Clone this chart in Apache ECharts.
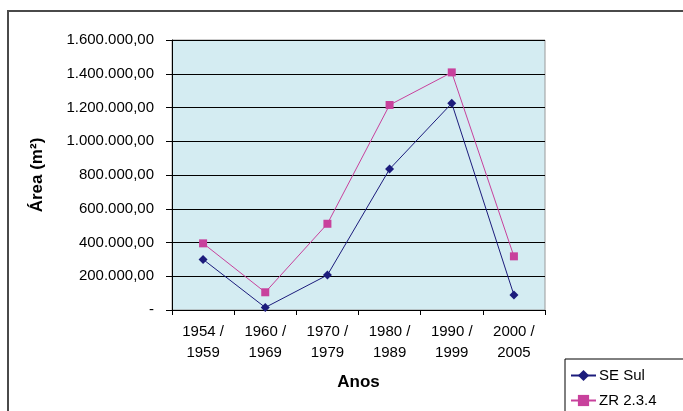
<!DOCTYPE html>
<html>
<head>
<meta charset="utf-8">
<script src="https://cdn.jsdelivr.net/npm/echarts@6/dist/echarts.min.js"></script>
<style>
  html, body { margin: 0; padding: 0; background: #fff; }
  #chart { width: 683px; height: 411px; }
</style>
</head>
<body>
<div id="chart"></div>
<script>
// Periods (x axis) and area in m² for each group
const periods = ['1954 /\n1959', '1960 /\n1969', '1970 /\n1979', '1980 /\n1989', '1990 /\n1999', '2000 /\n2005'];
const seSul = [300000, 15000, 207000, 835000, 1225000, 89000];
const zr234 = [395000, 105000, 511000, 1215000, 1408000, 318000];

// Brazilian number format: 1.600.000,00 ; zero shown as "-"
function fmtBR(v) {
  if (v === 0) return '-';
  const parts = v.toFixed(2).split('.');
  const intPart = parts[0].replace(/\B(?=(\d{3})+(?!\d))/g, '.');
  return intPart + ',' + parts[1];
}

const chart = echarts.init(document.getElementById('chart'));
const font = 'Liberation Sans, Arial, sans-serif';

chart.setOption({
  animation: false,
  backgroundColor: '#fff',
  textStyle: { fontFamily: font },
  graphic: [{
    type: 'rect',
    shape: { x: 8, y: 11, width: 720, height: 440 },
    style: { fill: 'none', stroke: '#4a4a4a', lineWidth: 2 },
    silent: true
  }],
  grid: {
    left: 172, right: 138, top: 40, bottom: 101,
    show: true,
    backgroundColor: '#d4ecf2',
    borderColor: '#9a9a9a',
    borderWidth: 1
  },
  legend: {
    orient: 'vertical',
    left: 565, top: 359,
    height: 80,
    width: 160,
    backgroundColor: '#fff',
    borderColor: '#000',
    borderWidth: 1,
    padding: [9, 40, 30, 5],
    itemGap: 10,
    itemWidth: 25,
    itemHeight: 14,
    textStyle: { fontFamily: font, fontSize: 15, color: '#000', padding: [0, 0, 0, -2] },
    data: ['SE Sul', 'ZR 2.3.4']
  },
  xAxis: {
    type: 'category',
    data: periods,
    boundaryGap: true,
    name: 'Anos',
    nameLocation: 'middle',
    nameGap: 64,
    nameTextStyle: { fontFamily: font, fontSize: 17, fontWeight: 'bold', color: '#000' },
    axisLine: { lineStyle: { color: '#000', width: 1 } },
    axisTick: { show: true, length: 5, lineStyle: { color: '#000' } },
    axisLabel: { fontFamily: font, fontSize: 15, color: '#000', lineHeight: 21, margin: 11 }
  },
  yAxis: {
    type: 'value',
    min: 0, max: 1600000, interval: 200000,
    name: 'Área (m²)',
    nameLocation: 'middle',
    nameGap: 126,
    nameTextStyle: { fontFamily: font, fontSize: 17, fontWeight: 'bold', color: '#000' },
    axisLine: { show: true, lineStyle: { color: '#000', width: 1 } },
    axisTick: { show: true, length: 6, lineStyle: { color: '#000' } },
    splitLine: { show: true, lineStyle: { color: '#000', width: 1 } },
    axisLabel: { fontFamily: font, fontSize: 15, color: '#000', margin: 18, formatter: fmtBR }
  },
  series: [
    {
      name: 'SE Sul',
      type: 'line',
      data: seSul,
      symbol: 'diamond',
      symbolSize: 9,
      color: '#1c1c7c',
      lineStyle: { width: 1, color: '#1c1c7c' },
      itemStyle: { color: '#1c1c7c' }
    },
    {
      name: 'ZR 2.3.4',
      type: 'line',
      data: zr234,
      symbol: 'rect',
      symbolSize: 8,
      color: '#c8419c',
      lineStyle: { width: 1, color: '#c8419c' },
      itemStyle: { color: '#c8419c' }
    }
  ]
});
</script>
</body>
</html>
